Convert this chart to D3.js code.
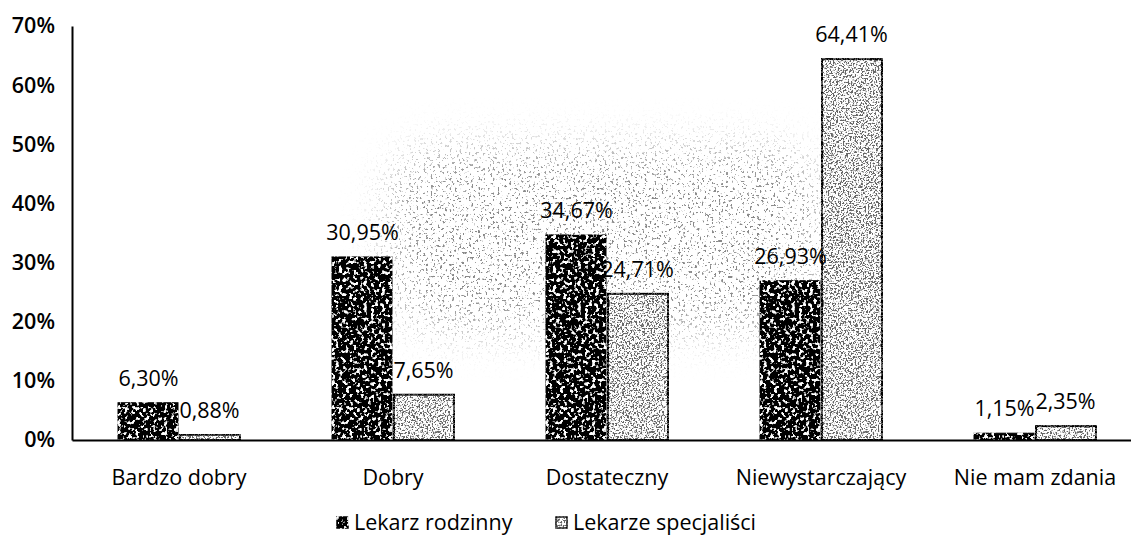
<!DOCTYPE html>
<html>
<head>
<meta charset="utf-8">
<script src="https://cdn.jsdelivr.net/npm/d3@7"></script>
<style>
  html, body { margin: 0; padding: 0; background: #fff; }
  svg { display: block; }
  text { font-family: "Open Sans", sans-serif; fill: #000; }
</style>
</head>
<body>
<svg id="chart" width="1131" height="536"></svg>
<script>
// Ocena pracy lekarzy – odsetek odpowiedzi
const categories = ["Bardzo dobry", "Dobry", "Dostateczny", "Niewystarczający", "Nie mam zdania"];
const seriesNames = ["Lekarz rodzinny", "Lekarze specjaliści"];
const lekarzRodzinny = [6.30, 30.95, 34.67, 26.93, 1.15];
const lekarzeSpecjalisci = [0.88, 7.65, 24.71, 64.41, 2.35];
const yTicks = [0, 10, 20, 30, 40, 50, 60, 70];

const series = [lekarzRodzinny, lekarzeSpecjalisci];
const svg = d3.select("#chart");
const defs = svg.append("defs");

// speckled print textures for the two series
function texture(id, color, gain, bias, freq, seed) {
  const f = defs.append("filter").attr("id", id)
    .attr("x", "-5%").attr("y", "-5%").attr("width", "110%").attr("height", "110%");
  f.append("feTurbulence").attr("type", "fractalNoise")
    .attr("baseFrequency", freq).attr("numOctaves", 2).attr("seed", seed).attr("result", "noise");
  const c = d3.color(color);
  f.append("feColorMatrix").attr("in", "noise").attr("type", "matrix")
    .attr("values", `0 0 0 0 ${c.r/255} 0 0 0 0 ${c.g/255} 0 0 0 0 ${c.b/255} ${gain} 0 0 0 ${bias}`)
    .attr("result", "spots");
  f.append("feComposite").attr("in", "spots").attr("in2", "SourceGraphic")
    .attr("operator", "in").attr("result", "clipped");
  const m = f.append("feMerge");
  m.append("feMergeNode").attr("in", "SourceGraphic");
  m.append("feMergeNode").attr("in", "clipped");
}
texture("texDark", "#ffffff", 9, -4.95, 0.28, 4);
texture("texLight", "#222222", 9, -4.4, 0.6, 9);

// faint grey speckle haze behind the middle bars
const haze = defs.append("filter").attr("id", "haze")
  .attr("filterUnits", "userSpaceOnUse")
  .attr("x", 300).attr("y", 60).attr("width", 620).attr("height", 360);
haze.append("feGaussianBlur").attr("in", "SourceGraphic").attr("stdDeviation", 22).attr("result", "mask");
haze.append("feTurbulence").attr("type", "fractalNoise")
  .attr("baseFrequency", 0.42).attr("numOctaves", 2).attr("seed", 17).attr("result", "noise");
haze.append("feColorMatrix").attr("in", "noise").attr("type", "matrix")
  .attr("values", "0 0 0 0 0.25 0 0 0 0 0.25 0 0 0 0 0.25 12 0 0 0 -7.3")
  .attr("result", "spots");
haze.append("feComposite").attr("in", "spots").attr("in2", "mask").attr("operator", "in");

const y = d3.scaleLinear().domain([0, 70]).range([440, 26]);
const x0 = d3.scaleBand().domain(categories).range([72, 1142])
  .paddingInner(0.43).paddingOuter(0.215);
const x1 = d3.scaleBand().domain(seriesNames).range([0, x0.bandwidth()]).padding(0);

svg.append("rect")
  .attr("x", 390).attr("y", 150).attr("width", 430).attr("height", 180)
  .attr("rx", 50)
  .attr("fill", "#000")
  .attr("filter", "url(#haze)");

const groups = svg.append("g").selectAll("g")
  .data(categories)
  .join("g")
  .attr("transform", d => `translate(${x0(d)},0)`);

const fmt = v => d3.format(".2f")(v).replace(".", ",") + "%";

groups.selectAll("rect")
  .data((d, i) => seriesNames.map((s, j) => ({ s, j, v: series[j][i] })))
  .join("rect")
  .attr("x", d => x1(d.s) + (d.j === 1 ? 1 : 0))
  .attr("y", d => y(d.v))
  .attr("width", d => x1.bandwidth() - 1)
  .attr("height", d => y(0) - y(d.v))
  .attr("fill", d => d.j === 0 ? "#000" : "#fff")
  .attr("stroke", "#000")
  .attr("stroke-width", d => d.j === 0 ? 1 : 2)
  .attr("filter", d => d.j === 0 ? "url(#texDark)" : "url(#texLight)");

groups.selectAll("text.val")
  .data((d, i) => seriesNames.map((s, j) => ({ s, j, v: series[j][i] })))
  .join("text")
  .attr("class", "val")
  .attr("x", d => x1(d.s) + x1.bandwidth() / 2)
  .attr("y", d => y(d.v) - 17)
  .attr("text-anchor", "middle")
  .style("font-size", "21.5px")
  .style("font-weight", "500")
  .text(d => fmt(d.v));

// axes
const yAxis = svg.append("g").attr("transform", "translate(72,0)")
  .call(d3.axisLeft(y).tickValues(yTicks).tickSize(0).tickPadding(17).tickFormat(d => d + "%"));
yAxis.select(".domain").attr("stroke", "#000").attr("stroke-width", 2);
yAxis.selectAll("text").style("font-size", "21.5px").style("font-weight", "600")
  .style("font-family", "'Open Sans', sans-serif").attr("fill", "#000");

const xAxis = svg.append("g").attr("transform", `translate(0,${y(0)})`)
  .call(d3.axisBottom(x0).tickSize(0).tickPadding(30));
xAxis.select(".domain").attr("stroke", "#000").attr("stroke-width", 2);
xAxis.selectAll("text").style("font-size", "21.5px")
  .style("font-family", "'Open Sans', sans-serif").attr("fill", "#000");

// legend
const legendX = [337, 556];
const legend = svg.append("g").selectAll("g")
  .data(seriesNames)
  .join("g")
  .attr("transform", (d, i) => `translate(${legendX[i]},517)`);
legend.append("rect")
  .attr("width", 11).attr("height", 11)
  .attr("fill", (d, i) => i === 0 ? "#000" : "#fff")
  .attr("stroke", "#000").attr("stroke-width", 1.5)
  .attr("filter", (d, i) => i === 0 ? "url(#texDark)" : "url(#texLight)");
legend.append("text")
  .attr("x", 17).attr("y", 13)
  .style("font-size", "21.5px")
  .text(d => d);
</script>
</body>
</html>
